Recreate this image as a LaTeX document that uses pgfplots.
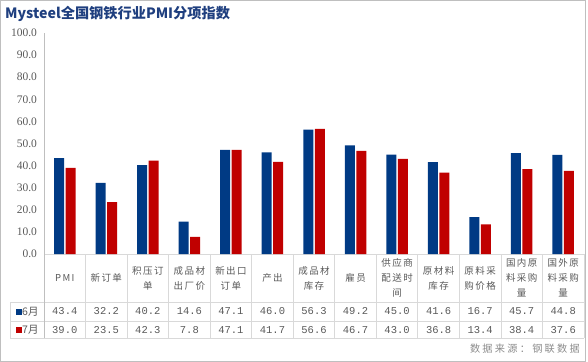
\documentclass[border=0pt]{standalone}
\usepackage{pgfplots}
\pgfplotsset{compat=1.18}
\usepackage{pgfplotstable}
\usepackage{fontspec}
\setmainfont{Liberation Serif}
\newfontfamily\cjk{Noto Sans CJK SC}
\newfontfamily\cjkls[LetterSpace=15]{Noto Sans CJK SC}
\newfontfamily\cjksrc[LetterSpace=22]{Noto Sans CJK SC}
\newfontfamily\monof{Liberation Mono}
\definecolor{cblue}{HTML}{003A84}
\definecolor{cred}{HTML}{C00000}
\definecolor{ctitle}{HTML}{1F3F7F}
\definecolor{cgrid}{HTML}{D9D9D9}
\definecolor{caxis}{HTML}{BFBFBF}
\definecolor{ctext}{HTML}{595959}
\definecolor{csrc}{HTML}{8C8C8C}

\pgfplotstableread{
idx jun jul
0 43.4 39.0
1 32.2 23.5
2 40.2 42.3
3 14.6 7.8
4 47.1 47.1
5 46.0 41.7
6 56.3 56.6
7 49.2 46.7
8 45.0 43.0
9 41.6 36.8
10 16.7 13.4
11 45.7 38.4
12 44.8 37.6
}\pmidata

\begin{document}
\begin{tikzpicture}
\useasboundingbox (0,0) rectangle (588bp,-362bp);
\draw[color=caxis, line width=1.2bp] (0.6bp,-0.6bp) rectangle (585.8bp,-361.2bp);
\node[anchor=west, font=\cjk\bfseries\fontsize{14.2bp}{16bp}\selectfont, text=ctitle, inner sep=0pt] at (5bp,-14bp) {Mysteel全国钢铁行业PMI分项指数};

% table grid
\draw[color=cgrid, line width=0.8bp] (44bp,-254bp) -- (584bp,-254bp);
\foreach \yy in {302,321,338} {
  \draw[color=cgrid, line width=0.8bp] (10bp,-\yy bp) -- (584bp,-\yy bp);
}
\draw[color=cgrid, line width=0.8bp] (10bp,-302bp) -- (10bp,-338bp);
\foreach \k in {1,...,13} {
  \pgfmathsetmacro\xx{44+41.5385*\k}
  \draw[color=cgrid, line width=0.8bp] (\xx bp,-254bp) -- (\xx bp,-338bp);
}
\draw[color=caxis, line width=0.8bp] (44bp,-33bp) -- (44bp,-338bp);

% row headers
\fill[cblue] (15.5bp,-308.5bp) rectangle (21.5bp,-314.5bp);
\fill[cred] (15.5bp,-326.5bp) rectangle (21.5bp,-332.5bp);
\node[anchor=west, inner sep=0pt, font=\cjk\fontsize{10.5bp}{12bp}\selectfont, text=ctext] at (22bp,-311.5bp) {6月};
\node[anchor=west, inner sep=0pt, font=\cjk\fontsize{10.5bp}{12bp}\selectfont, text=ctext] at (22bp,-329.5bp) {7月};

\node[anchor=east, inner sep=0pt, font=\cjksrc\fontsize{10.2bp}{12bp}\selectfont, text=csrc] at (580bp,-348.5bp) {数据来源：钢联数据};

\begin{axis}[
  at={(44bp,-254bp)}, anchor=south west,
  width=540bp, height=221bp, scale only axis,
  xmin=-0.5, xmax=12.5, ymin=0, ymax=100,
  clip=false,
  axis line style={draw=none},
  tick style={draw=none},
  xtick={0,...,12},
  xticklabels={PMI,新订单,{积压订\\单},{成品材\\出厂价},{新出口\\订单},产出,{成品材\\库存},雇员,{供应商\\配送时\\间},{原材料\\库存},{原料采\\购价格},{国内原\\料采购\\量},{国外原\\料采购\\量}},
  xticklabel style={anchor=center, yshift=-24bp, align=center, text=ctext, font=\cjkls\fontsize{9.5bp}{15bp}\selectfont},
  ytick={0,10,...,100},
  yticklabel style={text=ctext, font=\fontsize{11.5bp}{13bp}\selectfont, xshift=-3.5bp},
  yticklabel={\pgfmathprintnumber[fixed,zerofill,precision=1,assume math mode=true]{\tick}},
]
\addplot[ybar, bar width=10bp, bar shift=-5.75bp, fill=cblue, draw=none] table[x=idx,y=jun]{\pmidata};
\addplot[ybar, bar width=10bp, bar shift=5.75bp, fill=cred, draw=none] table[x=idx,y=jul]{\pmidata};
\addplot[draw=none, mark=none, nodes near coords={\pgfmathprintnumber[fixed,zerofill,precision=1,assume math mode=true]{\pgfplotspointmeta}}, point meta=explicit,
  nodes near coords style={anchor=center, inner sep=0pt, text=ctext, font=\monof\fontsize{10.5bp}{12bp}\selectfont}]
  table[x=idx, y expr=-26.0, meta=jun]{\pmidata};
\addplot[draw=none, mark=none, nodes near coords={\pgfmathprintnumber[fixed,zerofill,precision=1,assume math mode=true]{\pgfplotspointmeta}}, point meta=explicit,
  nodes near coords style={anchor=center, inner sep=0pt, text=ctext, font=\monof\fontsize{10.5bp}{12bp}\selectfont}]
  table[x=idx, y expr=-34.2, meta=jul]{\pmidata};
\end{axis}
\end{tikzpicture}
\end{document}
